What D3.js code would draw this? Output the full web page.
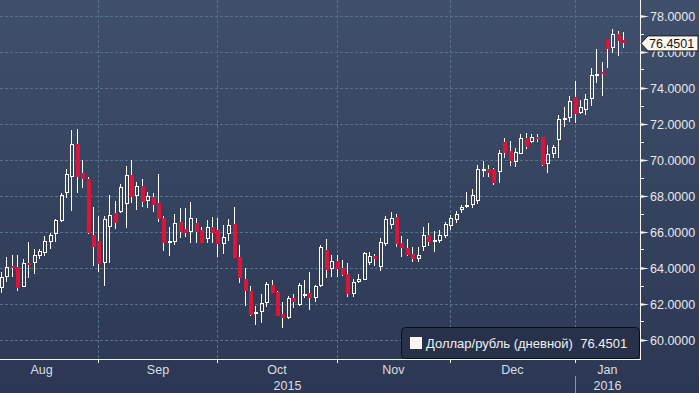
<!DOCTYPE html>
<html><head><meta charset="utf-8">
<script src="https://cdn.jsdelivr.net/npm/d3@7"></script>
<style>
html,body{margin:0;padding:0;background:#2e3a55;}
svg{display:block;}
text{font-family:"Liberation Sans",Arial,sans-serif;}
</style></head>
<body>
<svg id="chart" width="699" height="393"></svg>
<script>
// ---- data (USD/RUB daily candles, Aug 6 2015 – Jan 14 2016, weekdays) ----
const opens  = [62.84,63.49,64.06,64.03,62.93,64.25,64.27,64.66,64.82,65.43,65.84,66.58,68.16,69.01,70.86,69.23,68.90,65.79,65.47,64.23,
66.27,67.05,67.10,67.51,69.14,67.99,68.53,67.71,67.90,67.60,66.77,65.40,65.44,66.55,66.14,65.99,66.45,66.08,65.56,66.23,
66.08,65.31,65.88,66.40,64.58,63.36,62.71,61.40,61.55,62.01,63.03,62.66,61.40,61.21,62.29,61.92,62.48,62.57,62.32,62.97,
64.97,63.90,64.36,63.95,63.64,62.53,63.18,63.31,64.23,64.64,64.05,65.31,66.36,66.82,65.34,65.10,64.75,64.45,65.12,65.81,
65.44,65.49,65.75,66.30,66.65,67.22,67.34,67.47,67.70,69.40,69.45,69.47,69.32,70.99,70.47,69.88,70.31,71.21,70.95,71.26,
71.23,69.75,70.31,71.09,72.25,72.29,73.45,72.56,72.75,73.34,74.71,74.88,76.68,76.18,76.97,76.64];
const highs  = [63.77,64.60,64.69,64.69,64.45,65.43,65.03,65.03,65.75,65.90,66.69,68.16,69.45,71.64,71.69,69.97,69.01,67.34,66.88,66.86,
68.03,67.71,68.62,69.64,69.97,68.73,68.90,68.21,68.16,69.20,66.88,66.27,66.95,67.29,67.29,67.66,66.73,66.27,66.64,66.82,
66.77,66.36,66.69,67.38,65.25,63.95,62.97,61.86,62.53,63.18,63.31,62.68,62.10,62.44,62.53,63.12,63.29,63.77,63.03,65.25,
65.56,64.69,64.69,64.42,64.23,63.36,63.64,64.88,64.88,64.75,65.66,66.86,67.06,66.95,65.75,65.56,65.16,65.16,66.23,66.45,
66.05,66.08,66.55,66.90,67.15,67.47,68.21,68.34,69.69,69.92,69.69,69.51,70.53,71.18,71.03,70.62,71.40,71.49,71.40,71.40,
71.27,70.80,70.80,72.47,72.90,73.53,74.38,73.30,73.62,75.07,76.12,75.43,76.68,77.23,77.16,77.10];
const lows   = [62.57,63.21,63.49,62.71,62.90,63.40,63.62,64.45,64.66,65.05,65.43,66.54,67.88,67.16,68.16,68.40,65.86,64.10,63.77,62.99,
64.23,66.14,67.01,66.21,67.56,67.19,67.38,67.29,67.10,66.55,64.93,64.64,65.25,65.66,65.68,65.38,65.34,65.34,65.34,65.34,
64.60,64.75,65.49,64.51,63.16,61.86,61.32,60.81,60.94,61.82,62.60,61.30,60.62,61.14,61.73,61.88,62.32,61.64,62.10,62.94,
63.40,63.45,63.49,63.55,62.34,62.38,63.12,63.31,64.14,64.08,63.82,65.21,66.12,65.16,64.60,64.64,64.32,64.32,64.94,65.19,
64.88,65.38,65.62,66.10,66.45,67.05,67.29,67.29,67.50,69.01,69.01,68.58,68.71,70.07,69.64,69.57,70.29,70.56,70.94,70.95,
69.64,69.27,70.07,70.07,71.79,72.10,72.05,72.53,72.47,72.97,74.27,73.53,75.10,75.94,75.75,76.18];
const closes = [63.45,64.04,64.01,62.88,64.23,64.21,64.69,64.92,65.47,65.80,66.64,68.01,69.19,70.84,69.01,68.90,65.90,65.16,64.18,66.68,
66.92,66.45,68.45,69.14,67.94,68.53,67.66,67.97,67.47,66.70,65.38,65.47,66.45,65.99,65.94,66.73,65.99,65.38,66.23,65.94,
65.31,65.69,66.36,64.51,63.40,62.71,61.36,61.55,62.03,63.07,62.60,61.32,61.21,62.29,62.10,63.03,62.51,62.32,62.99,65.16,
63.86,64.38,63.92,63.58,62.53,63.21,63.36,64.79,64.64,64.47,65.40,66.68,66.73,65.29,65.10,64.69,64.47,64.72,65.81,65.44,
65.53,65.81,66.42,66.75,67.00,67.38,67.47,68.03,69.45,69.45,69.27,68.68,70.34,70.38,69.94,70.44,71.18,70.71,71.23,71.21,
69.70,70.29,70.71,72.23,72.32,73.25,72.51,72.93,73.34,74.70,74.76,74.73,76.12,76.97,76.60,76.4501];

const monthLabels   = ["Aug","Sep","Oct","Nov","Dec","Jan"];
const monthStartIdx = [-3, 18, 40, 62, 83, 106];   // trading-day index of the 1st trading day
const yearLabels    = ["2015","2016"];
const yTicks        = [60,62,64,66,68,70,72,74,76,78];
const seriesName    = "Доллар/рубль (дневной)";
const lastPrice     = 76.4501;

// ---- layout ----
const W = 699, H = 393;
const plotR = 640, plotB = 359;
const svg = d3.select("#chart");

const defs = svg.append("defs");
const grad = defs.append("linearGradient").attr("id","bg").attr("x1",0).attr("y1",0).attr("x2",0).attr("y2",1);
grad.append("stop").attr("offset","0%").attr("stop-color","#404f6a");
grad.append("stop").attr("offset","55%").attr("stop-color","#35425e");
grad.append("stop").attr("offset","100%").attr("stop-color","#2c3853");
svg.append("rect").attr("width",W).attr("height",H).attr("fill","url(#bg)");

const x = d3.scaleLinear().domain([-0.2, 118.1]).range([0, plotR]);
const y = d3.scaleLinear().domain([60, 78]).range([339.5, 15.5]);
const px = v => Math.round(x(v));
const py = v => Math.round(y(v));

// grid
const grid = svg.append("g").attr("stroke","#55718c").attr("stroke-dasharray","3,2").attr("shape-rendering","crispEdges");
grid.selectAll("line.h").data(yTicks).join("line").attr("class","h")
  .attr("x1",0).attr("x2",plotR).attr("y1",d=>py(d)+0.5).attr("y2",d=>py(d)+0.5);
grid.selectAll("line.v").data(monthStartIdx.slice(1)).join("line").attr("class","v")
  .attr("x1",d=>px(d)+0.5).attr("x2",d=>px(d)+0.5).attr("y1",0).attr("y2",plotB);

// candles
const data = opens.map((o,i)=>({i, o, h:highs[i], l:lows[i], c:closes[i]}));
const cg = svg.append("g").attr("shape-rendering","crispEdges");
data.forEach(d=>{
  const cx = px(d.i);
  const up = d.c >= d.o;
  let top = py(Math.max(d.o,d.c)), bot = py(Math.min(d.o,d.c));
  const hi = py(d.h), lo = py(d.l);
  if (up) {
    if (bot - top < 2) bot = top + 2;
    cg.append("line").attr("x1",cx+0.5).attr("x2",cx+0.5).attr("y1",hi).attr("y2",top).attr("stroke","#ffffff");
    cg.append("line").attr("x1",cx+0.5).attr("x2",cx+0.5).attr("y1",bot).attr("y2",lo).attr("stroke","#ffffff");
    cg.append("rect").attr("x",cx-1+0.5).attr("y",top+0.5).attr("width",3).attr("height",bot-top-1)
      .attr("fill","none").attr("stroke","#ffffff").attr("stroke-width",1.2);
  } else {
    if (bot - top < 2) bot = top + 2;
    cg.append("line").attr("x1",cx+0.5).attr("x2",cx+0.5).attr("y1",hi).attr("y2",lo).attr("stroke","#ffffff");
    cg.append("rect").attr("x",cx-1).attr("y",top).attr("width",4).attr("height",bot-top).attr("fill","#dc1439");
  }
});

// x axis
const xa = svg.append("g").attr("shape-rendering","crispEdges");
xa.append("line").attr("x1",0).attr("x2",plotR+1).attr("y1",plotB+0.5).attr("y2",plotB+0.5).attr("stroke","#f4f4f4");
xa.selectAll("line.t").data(monthStartIdx.slice(1)).join("line").attr("class","t")
  .attr("x1",d=>px(d)+0.5).attr("x2",d=>px(d)+0.5).attr("y1",plotB).attr("y2",plotB+4).attr("stroke","#f4f4f4");
const endIdx = x.invert(plotR);
xa.selectAll("text.m").data(monthLabels).join("text").attr("class","m")
  .attr("x",(d,k)=>{ const a = monthStartIdx[k]; const b = k+1<monthStartIdx.length ? monthStartIdx[k+1] : endIdx; return x((a+b)/2); })
  .attr("y",374).attr("text-anchor","middle").attr("font-size","12.5px").attr("fill","#d9dee6").text(d=>d);
// years
const janX = px(monthStartIdx[5]);
xa.append("line").attr("x1",janX+0.5).attr("x2",janX+0.5).attr("y1",376).attr("y2",393).attr("stroke","#8b95a6");
xa.selectAll("text.yr").data(yearLabels).join("text").attr("class","yr")
  .attr("x",(d,k)=> k===0 ? janX/2 : (janX+plotR)/2)
  .attr("y",390).attr("text-anchor","middle").attr("font-size","12.5px").attr("fill","#d9dee6").text(d=>d);

// y axis (right)
const ya = svg.append("g");
ya.append("line").attr("x1",plotR+0.5).attr("x2",plotR+0.5).attr("y1",0).attr("y2",plotB+1).attr("stroke","#f4f4f4").attr("shape-rendering","crispEdges");
const minor = d3.range(61,78,2);
ya.selectAll("line.mn").data(minor).join("line").attr("class","mn").attr("shape-rendering","crispEdges")
  .attr("x1",plotR).attr("x2",plotR+4).attr("y1",d=>py(d)+0.5).attr("y2",d=>py(d)+0.5).attr("stroke","#f4f4f4");
ya.selectAll("path.mj").data(yTicks).join("path").attr("class","mj")
  .attr("d",d=>{const yy=py(d)+0.5; return `M${plotR},${yy-1.6}L${plotR+9},${yy}L${plotR},${yy+1.6}Z`;}).attr("fill","#f4f4f4");
ya.selectAll("text.yt").data(yTicks).join("text").attr("class","yt")
  .attr("x",650).attr("y",d=>py(d)+5).attr("font-size","12.5px").attr("fill","#e6e9ee").text(d=>d3.format(".4f")(d));

// last price tag
const ly = y(lastPrice);
svg.append("path")
  .attr("d",`M${plotR+1},${ly}L${plotR+8},${ly-7.5}L698,${ly-7.5}L698,${ly+7.5}L${plotR+8},${ly+7.5}Z`)
  .attr("fill","#fff7f0").attr("stroke","#1c1c1c").attr("stroke-width",1);
svg.append("text").attr("x",649).attr("y",ly+4.6).attr("font-size","12.5px").attr("fill","#151515").text(d3.format(".4f")(lastPrice));

// legend
const lg = svg.append("g");
lg.append("rect").attr("x",401.5).attr("y",327.5).attr("width",238).attr("height",31).attr("rx",4)
  .attr("fill","#27314a").attr("stroke","#0c0e13");
lg.append("rect").attr("x",410).attr("y",337).attr("width",12).attr("height",12).attr("fill","#fdf3ef");
lg.append("text").attr("x",426).attr("y",347.5).attr("font-size","13px").attr("fill","#eef0f4")
  .attr("xml:space","preserve").text(seriesName + "  " + d3.format(".4f")(lastPrice));
</script>
</body></html>
